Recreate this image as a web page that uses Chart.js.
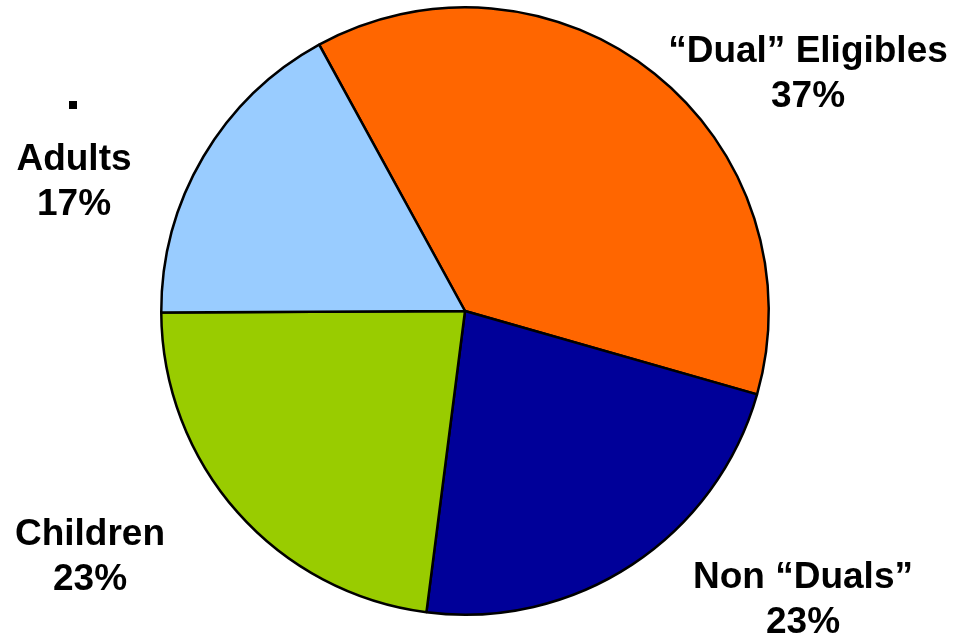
<!DOCTYPE html>
<html>
<head>
<meta charset="utf-8">
<script src="https://cdn.jsdelivr.net/npm/chart.js@4"></script>
<style>
    html, body { margin: 0; padding: 0; background: #fff; }
    #marco { width: 954px; height: 636px; position: relative; }
</style>
</head>
<body>
<div id="marco"><canvas id="pastel"></canvas></div>
<script>
/*Datos*/
const categorias = ['\u201CDual\u201D Eligibles', 'Non \u201CDuals\u201D', 'Children', 'Adults']
const valores = [37.4, 22.6, 22.9, 17.1]
const colores = ['#FF6600', '#000099', '#99CC00', '#99CCFF']

//Posicion de cada rotulo (texto fuera del pastel)
const rotulos = [
    { x: 808, y: 62 },
    { x: 803, y: 588 },
    { x: 90, y: 545 },
    { x: 74, y: 170 }
]

//Plugin para escribir los rotulos con su porcentaje
const pluginRotulos = {
    id: 'rotulos',
    afterDraw(chart) {
        const ctx = chart.ctx
        ctx.save()
        ctx.fillStyle = '#000'
        ctx.font = 'bold 37px "Liberation Sans", Arial, sans-serif'
        ctx.textAlign = 'center'
        ctx.textBaseline = 'alphabetic'
        categorias.forEach((cat, i) => {
            let r = rotulos[i]
            ctx.fillText(cat, r.x, r.y)
            ctx.fillText(`${Math.round(valores[i])}%`, r.x, r.y + 45)
        })
        // vineta suelta que aparece sobre "Adults"
        ctx.fillRect(69, 101, 8, 8)
        ctx.restore()
    }
}

function CrearPastel() {
    let canvas = document.getElementById('pastel')
    return new Chart(canvas, {
        type: 'pie',
        data: {
            labels: categorias,
            datasets: [{
                data: valores,
                backgroundColor: colores,
                borderColor: '#000',
                borderWidth: 2.5
            }]
        },
        options: {
            responsive: true,
            maintainAspectRatio: false,
            animation: false,
            rotation: -28.7,
            layout: { padding: { top: 6, bottom: 20, left: 0, right: 24 } },
            plugins: {
                legend: { display: false },
                tooltip: { enabled: false }
            }
        },
        plugins: [pluginRotulos]
    })
}

CrearPastel()
</script>
</body>
</html>
